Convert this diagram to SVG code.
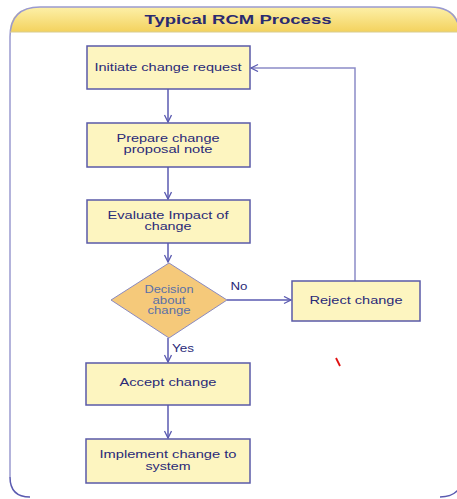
<svg xmlns="http://www.w3.org/2000/svg" width="457" height="499" viewBox="0 0 457 499">
<defs>
<linearGradient id="hdr" x1="0" y1="0" x2="0" y2="1">
<stop offset="0" stop-color="#fdf0a8"/>
<stop offset="1" stop-color="#f3d25e"/>
</linearGradient>
<marker id="arr" markerWidth="10" markerHeight="10" refX="8" refY="4" orient="auto" markerUnits="userSpaceOnUse">
<path d="M1,0.5 L8,4 L1,7.5" fill="none" stroke="#5a5ab0" stroke-width="1.3"/>
</marker>
</defs>
<style>
.box{fill:#fdf5c0;stroke:#5a5aa8;stroke-width:1.5}
.dia{fill:#f5c97a;stroke:#8a8ac0;stroke-width:1}
.t{font-family:"Liberation Sans",Arial,sans-serif;font-size:10px;fill:#2a2a78;text-anchor:middle}
.td{font-family:"Liberation Sans",Arial,sans-serif;font-size:10px;fill:#5a70a8;text-anchor:middle}
.c{fill:none;stroke:#5a5ab0;stroke-width:1.5}
.cr{fill:none;stroke:#8c8cc8;stroke-width:1.5}
</style>
<g id="frame">
<path d="M10,497 L10,37 Q10,7 40,7 L430,7 Q460,7 460,37 L460,497 Z" fill="#ffffff" stroke="none"/>
<path d="M10,32 Q10,7 40,7 L430,7 Q460,7 460,32 Z" fill="url(#hdr)"/>
<path d="M10,477 L10,37 Q10,7 40,7 L430,7 Q460,7 460,37 L460,497" fill="none" stroke="#9a9ad0" stroke-width="1.5"/>
<path d="M10,32 L460,32" stroke="#d8cc90" stroke-width="1"/>
<path d="M10,477 Q10,497 30,497" fill="none" stroke="#5a5ab0" stroke-width="1.5"/>
<path d="M440,497 Q452,497 458,490" fill="none" stroke="#5a5ab0" stroke-width="1.5"/>
<text x="238" y="24" font-family="'Liberation Sans',Arial,sans-serif" font-size="13" font-weight="bold" fill="#2a2a70" text-anchor="middle" textLength="187" lengthAdjust="spacingAndGlyphs">Typical RCM Process</text>
</g>
<g id="connectors">
<path class="c" d="M168,89 L168,122" marker-end="url(#arr)"/>
<path class="c" d="M168,167 L168,199" marker-end="url(#arr)"/>
<path class="c" d="M168,243 L168,262" marker-end="url(#arr)"/>
<path class="c" d="M168,338 L168,362" marker-end="url(#arr)"/>
<path class="c" d="M168,405 L168,438" marker-end="url(#arr)"/>
<path class="c" d="M227,300 L291,300" marker-end="url(#arr)"/>
<path class="cr" d="M355,281 L355,68 L251,68" marker-end="url(#arr)"/>
<text class="t" x="239" y="290" textLength="17" lengthAdjust="spacingAndGlyphs">No</text>
<text class="t" x="183" y="352" textLength="22" lengthAdjust="spacingAndGlyphs">Yes</text>
</g>
<g id="n1">
<rect class="box" x="87" y="46" width="163" height="43"/>
<text class="t" x="168" y="71" textLength="147" lengthAdjust="spacingAndGlyphs">Initiate change request</text>
</g>
<g id="n2">
<rect class="box" x="87" y="123" width="163" height="44"/>
<text class="t" x="168" y="142" textLength="103" lengthAdjust="spacingAndGlyphs">Prepare change</text>
<text class="t" x="168" y="153" textLength="89" lengthAdjust="spacingAndGlyphs">proposal note</text>
</g>
<g id="n3">
<rect class="box" x="87" y="200" width="163" height="43"/>
<text class="t" x="168" y="219" textLength="121" lengthAdjust="spacingAndGlyphs">Evaluate Impact of</text>
<text class="t" x="168" y="230" textLength="47" lengthAdjust="spacingAndGlyphs">change</text>
</g>
<g id="n4">
<polygon class="dia" points="169,263 227,300 169,338 111,300"/>
<text class="td" x="169" y="293" textLength="49" lengthAdjust="spacingAndGlyphs">Decision</text>
<text class="td" x="169" y="304" textLength="33" lengthAdjust="spacingAndGlyphs">about</text>
<text class="td" x="169" y="314" textLength="43" lengthAdjust="spacingAndGlyphs">change</text>
</g>
<g id="n5">
<rect class="box" x="292" y="281" width="128" height="40"/>
<text class="t" x="356" y="304" textLength="93" lengthAdjust="spacingAndGlyphs">Reject change</text>
</g>
<g id="n6">
<rect class="box" x="86" y="363" width="164" height="42"/>
<text class="t" x="168" y="386" textLength="97" lengthAdjust="spacingAndGlyphs">Accept change</text>
</g>
<g id="n7">
<rect class="box" x="86" y="439" width="164" height="44"/>
<text class="t" x="168" y="458" textLength="137" lengthAdjust="spacingAndGlyphs">Implement change to</text>
<text class="t" x="168" y="470" textLength="45" lengthAdjust="spacingAndGlyphs">system</text>
</g>
<path d="M336,358 L340,366" stroke="#e01010" stroke-width="1.8" fill="none"/>
</svg>
